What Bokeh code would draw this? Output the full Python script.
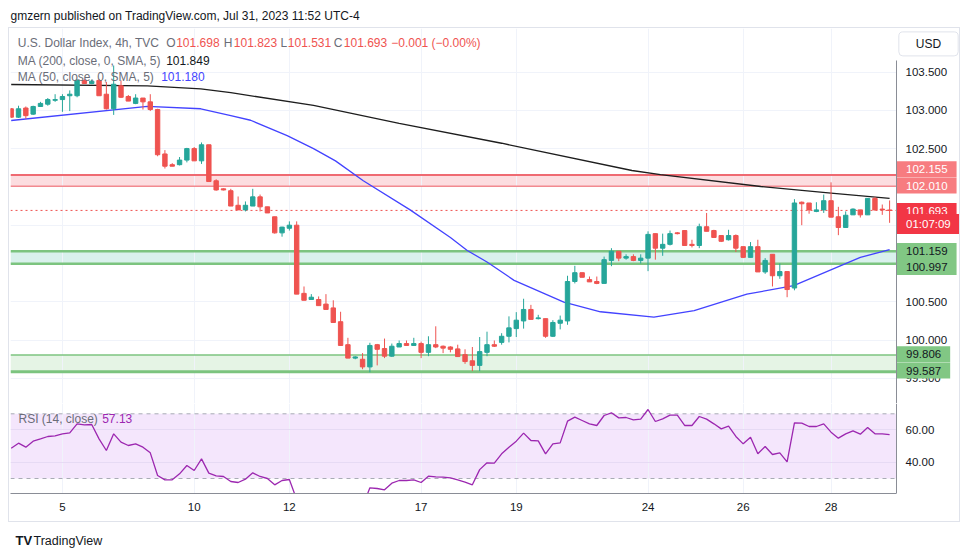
from bokeh.plotting import figure
from bokeh.models import Range1d, Label, FixedTicker, NumeralTickFormatter
from bokeh.layouts import column
from bokeh.embed import file_html
from bokeh.resources import INLINE

FONT = "Liberation Sans"

# ---------------- data ----------------
date_ticks = [7, 25, 38, 56, 69, 87, 100, 112]
date_labels = ["5", "10", "12", "17", "19", "24", "26", "28"]
price_ticks = [99.5, 100.0, 100.5, 101.0, 101.5, 102.0, 102.5, 103.0, 103.5]
rsi_ticks = [40, 60]

opens = [103.02, 102.91, 103.03, 102.95, 103.05, 103.08, 103.13, 103.14, 103.19, 103.19,
         103.39, 103.35, 103.39, 103.21, 103.02, 103.32, 103.18, 103.09, 103.16, 103.11,
         103.01, 102.43, 102.29, 102.29, 102.35, 102.50, 102.34, 102.55, 102.08, 101.975,
         101.95, 101.76, 101.70, 101.75, 101.87, 101.74, 101.61, 101.40, 101.46, 101.50,
         100.61, 100.53, 100.53, 100.47, 100.42, 100.24, 99.94, 99.765, 99.75, 99.65,
         99.94, 99.89, 99.79, 99.91, 99.955, 99.93, 99.955, 99.84, 99.94, 99.92,
         99.91, 99.885, 99.81, 99.73, 99.67, 99.84, 99.94, 99.97, 100.05, 100.15,
         100.25, 100.40, 100.28, 100.28, 100.05, 100.22, 100.25, 100.765, 100.88, 100.79,
         100.765, 100.74, 101.04, 101.16, 101.07, 101.09, 101.04, 101.07, 101.39, 101.20,
         101.25, 101.40, 101.43, 101.25, 101.235, 101.48, 101.43, 101.365, 101.31, 101.365,
         101.22, 101.08, 101.22, 100.89, 101.12, 100.84, 100.895, 100.68, 101.80, 101.79,
         101.68, 101.70, 101.82, 101.61, 101.47, 101.635, 101.70, 101.635, 101.85, 101.71,
         101.698]
highs = [103.03, 103.06, 103.05, 103.06, 103.11, 103.16, 103.21, 103.21, 103.26, 103.41,
         103.41, 103.40, 103.41, 103.37, 103.585, 103.39, 103.20, 103.21, 103.16, 103.21,
         103.02, 102.48, 102.31, 102.39, 102.51, 102.52, 102.58, 102.55, 102.10, 101.98,
         101.975, 101.875, 101.81, 101.975, 101.90, 101.74, 101.61, 101.48, 101.55, 101.55,
         100.70, 100.60, 100.57, 100.60, 100.52, 100.37, 100.03, 99.79, 99.83, 99.965,
         99.95, 100.02, 99.955, 99.995, 99.995, 100.03, 99.98, 100.05, 100.18, 99.93,
         99.92, 99.94, 99.88, 99.91, 100.04, 100.11, 99.995, 100.09, 100.31, 100.365,
         100.54, 100.46, 100.33, 100.28, 100.26, 100.32, 100.84, 100.97, 100.88, 100.83,
         100.83, 101.09, 101.20, 101.16, 101.12, 101.12, 101.12, 101.42, 101.39, 101.39,
         101.43, 101.41, 101.43, 101.31, 101.52, 101.66, 101.44, 101.365, 101.44, 101.38,
         101.22, 101.28, 101.31, 101.07, 101.12, 101.00, 100.895, 101.84, 101.81, 101.79,
         101.80, 101.90, 102.06, 101.74, 101.68, 101.72, 101.70, 101.85, 101.87, 101.77,
         101.823]
lows = [102.90, 102.90, 102.89, 102.94, 103.05, 103.06, 103.11, 102.98, 102.99, 103.17,
        103.35, 103.34, 103.19, 103.01, 102.94, 103.16, 103.12, 103.08, 103.01, 102.99,
        102.40, 102.24, 102.27, 102.28, 102.32, 102.34, 102.30, 102.07, 101.95, 101.955,
        101.75, 101.70, 101.68, 101.75, 101.68, 101.66, 101.39, 101.35, 101.43, 100.60,
        100.52, 100.53, 100.45, 100.40, 100.23, 99.93, 99.765, 99.75, 99.62, 99.58,
        99.67, 99.765, 99.78, 99.91, 99.93, 99.925, 99.765, 99.79, 99.895, 99.83,
        99.84, 99.78, 99.69, 99.595, 99.595, 99.79, 99.91, 99.94, 99.97, 100.04,
        100.15, 100.27, 100.27, 100.03, 100.04, 100.14, 100.20, 100.74, 100.82, 100.76,
        100.73, 100.74, 100.965, 101.03, 101.05, 101.03, 101.00, 100.90, 101.05, 101.10,
        101.235, 101.38, 101.235, 101.21, 101.20, 101.42, 101.335, 101.28, 101.30, 101.15,
        101.07, 101.08, 100.89, 100.865, 100.70, 100.80, 100.56, 100.65, 101.50, 101.65,
        101.67, 101.66, 101.605, 101.37, 101.47, 101.635, 101.60, 101.635, 101.69, 101.635,
        101.531]
closes = [102.91, 103.02, 102.93, 103.05, 103.09, 103.14, 103.14, 103.18, 103.21, 103.39,
          103.35, 103.38, 103.19, 103.02, 103.34, 103.17, 103.12, 103.16, 103.11, 103.01,
          102.42, 102.27, 102.27, 102.35, 102.50, 102.34, 102.55, 102.07, 101.96, 101.96,
          101.75, 101.70, 101.76, 101.87, 101.74, 101.66, 101.40, 101.475, 101.50, 100.60,
          100.52, 100.56, 100.45, 100.40, 100.23, 99.93, 99.765, 99.78, 99.65, 99.93,
          99.88, 99.79, 99.92, 99.955, 99.93, 99.955, 99.84, 99.94, 99.91, 99.895,
          99.88, 99.785, 99.72, 99.67, 99.85, 99.94, 99.92, 100.05, 100.16, 100.26,
          100.40, 100.27, 100.29, 100.05, 100.23, 100.26, 100.765, 100.88, 100.82, 100.76,
          100.74, 101.05, 101.16, 101.07, 101.09, 101.04, 101.07, 101.38, 101.20, 101.25,
          101.39, 101.39, 101.235, 101.235, 101.48, 101.42, 101.34, 101.29, 101.365, 101.20,
          101.08, 101.22, 100.89, 101.04, 100.84, 100.895, 100.66, 101.79, 101.78, 101.70,
          101.70, 101.82, 101.605, 101.47, 101.63, 101.71, 101.635, 101.85, 101.70, 101.70,
          101.693]

ma200_x = [0, 18.6, 25.9, 30, 41.3, 53, 67, 84.8, 88.7, 102.4, 112, 120]
ma200_y = [103.337, 103.32, 103.28, 103.23, 103.063, 102.83, 102.57, 102.214, 102.16, 102.005, 101.92, 101.849]

ma50_x = [0, 18.6, 25.9, 30, 32.7, 37.7, 41.3, 44.3, 48.1, 54.5, 60, 62.3, 65, 68.7,
          75.5, 80.5, 87.8, 93.3, 100.5, 106.9, 116, 120]
ma50_y = [102.867, 103.05, 103.02, 102.93, 102.87, 102.67, 102.50, 102.34, 102.08, 101.70,
          101.34, 101.17, 101.02, 100.78, 100.495, 100.37, 100.30, 100.385, 100.60, 100.71,
          101.08, 101.18]

rsi = [48.75, 51.84, 49.37, 53.08, 54.5, 55.97, 56.38, 57.61, 58.23, 63.8,
       63.18, 63.38, 54.52, 47.31, 57.61, 52.46, 50.4, 51.43, 49.37, 45.87,
       31.86, 29.18, 29.18, 32.89, 38.04, 34.95, 42.16, 33.3, 31.65, 31.24,
       28.15, 27.53, 29.59, 33.5, 31.24, 30.0, 26.09, 28.77, 29.38, 17.0,
       15.5, 17.0, 14.5, 13.5, 11.5, 9.0, 7.5, 8.0, 12.5, 24.23,
       23.82, 23.0, 27.12, 28.77, 28.77, 29.18, 27.53, 31.44, 31.03, 30.83,
       30.41, 29.18, 27.74, 26.09, 35.5, 39.69, 39.48, 45.25, 49.37, 53.08,
       58.03, 53.49, 53.29, 45.25, 51.43, 52.05, 65.44, 67.92, 65.86, 63.8,
       62.77, 68.95, 70.6, 67.5, 67.71, 66.27, 66.68, 72.66, 65.24, 66.89,
       69.15, 69.15, 62.77, 62.77, 68.33, 66.68, 63.8, 60.7, 62.35, 55.97,
       51.43, 55.55, 45.25, 49.78, 44.84, 45.87, 40.31, 64.41, 64.21, 62.15,
       62.15, 63.8, 58.64, 54.94, 57.61, 59.47, 57.41, 61.53, 57.61, 57.61,
       57.13]

red_zone = (102.010, 102.155)
green_zone_hi = (100.997, 101.159)
green_zone_lo = (99.587, 99.806)
change_text = "\u22120.001 (\u22120.00%)"
countdown = "01:07:09"

# ---------------- layout geometry (pixels, window coords) ----------------
X_PIX0, X_STEP = 10.7, 7.32          # bar 0 centre, bar spacing
P_REF, P_REF_PIX, P_SCALE = 103.5, 71.5, 76.6
R_REF, R_REF_PIX, R_SCALE = 70.0, 413.3, 1.6175


def xi(px):
    return (px - X_PIX0) / X_STEP


def py(pix):
    return P_REF - (pix - P_REF_PIX) / P_SCALE


def ry(pix):
    return R_REF - (pix - R_REF_PIX) / R_SCALE


UP, DOWN = "#26a69a", "#ef5350"
GRID = "#f0f3fa"
AXIS = "#8a8d96"
TXT = "#131722"
GRAY = "#6a6d78"
XL, XS = xi(10), xi(896)          # pane left edge, price-scale separator
x_range = Range1d(XL, xi(959))


def bound_grid(g, lo, hi):
    try:
        g.cross_bounds = (lo, hi)
    except Exception:
        pass


def style_axis(a, standoff):
    a.major_tick_line_color = None
    a.minor_tick_line_color = None
    a.major_tick_out = 0
    a.major_tick_in = 0
    a.major_label_standoff = standoff
    a.major_label_text_font = FONT
    a.major_label_text_font_size = "11.5px"
    a.major_label_text_color = TXT


# ---------------- price pane ----------------
p1 = figure(width=950, height=375, x_range=x_range, y_range=Range1d(py(403), py(28)),
            y_axis_location="right", x_axis_location=None, toolbar_location=None,
            output_backend="svg", min_border_left=1, min_border_right=0,
            min_border_top=0, min_border_bottom=0, outline_line_color=None,
            background_fill_color="white", border_fill_color="white")
p1.xgrid.ticker = FixedTicker(ticks=date_ticks)
p1.ygrid.ticker = FixedTicker(ticks=price_ticks)
p1.grid.grid_line_color = GRID
bound_grid(p1.ygrid[0], XL, XS)
ax = p1.yaxis[0]
ax.ticker = FixedTicker(ticks=price_ticks)
ax.formatter = NumeralTickFormatter(format="0.000")
ax.axis_line_color = None
style_axis(ax, -54)

# zones
for (lo, hi), fill in [(red_zone, "#fcdde0"), (green_zone_hi, "#d9f1ec"), (green_zone_lo, "#e5f4e5")]:
    p1.quad(left=[XL], right=[XS], bottom=[lo], top=[hi], fill_color=fill, line_color=None, level="image")
for yv, colr, lw in [(red_zone[1], "#ef6a72", 2), (red_zone[0], "#f28a90", 1.5),
                     (green_zone_hi[1], "#7cc47f", 2.5), (green_zone_hi[0], "#7cc47f", 2.5),
                     (green_zone_lo[1], "#7cc47f", 1.5), (green_zone_lo[0], "#7cc47f", 3)]:
    p1.segment(x0=[XL], y0=[yv], x1=[XS], y1=[yv], line_color=colr, line_width=lw)
p1.segment(x0=[XL], y0=[closes[-1]], x1=[XS], y1=[closes[-1]], line_color="#ef5350",
           line_width=1, line_dash="2 3")

# moving averages
p1.line(ma200_x, ma200_y, line_color="#1e1e1e", line_width=1.3)
p1.line(ma50_x, ma50_y, line_color="#4343ff", line_width=1.3)

# candles
xs = list(range(len(opens)))
cols = [UP if c >= o else DOWN for o, c in zip(opens, closes)]
tops = [max(o, c) for o, c in zip(opens, closes)]
bots = [min(o, c) for o, c in zip(opens, closes)]
p1.segment(x0=xs, y0=highs, x1=xs, y1=lows, line_color=cols, line_width=1)
p1.vbar(x=xs, width=0.6, top=tops, bottom=bots, fill_color=cols, line_color=cols, line_width=1)

# separators
p1.segment(x0=[XS], y0=[py(60)], x1=[XS], y1=[py(403)], line_color=AXIS, line_width=1)
p1.hspan(y=[py(402.5)], line_color="#e0e3eb", line_width=1)


def lab(fig, x, y, text, color, size="12px", align="left", baseline="middle", **kw):
    fig.add_layout(Label(x=x, y=y, text=text, text_color=color, text_font=FONT,
                         text_font_size=size, text_align=align, text_baseline=baseline, **kw))


# legend texts
L1, L2, L3 = py(42.3), py(60), py(76)
lab(p1, xi(17.3), L1, "U.S. Dollar Index, 4h, TVC", GRAY)
for letter, val, px_l, px_v in [("O", opens[-1], 165.7, 175.7), ("H", highs[-1], 223.3, 233.3),
                                ("L", lows[-1], 280, 287.3), ("C", closes[-1], 333.3, 343.3)]:
    lab(p1, xi(px_l), L1, letter, GRAY)
    lab(p1, xi(px_v), L1, f"{val:.3f}", DOWN)
lab(p1, xi(390.7), L1, change_text, DOWN)
lab(p1, xi(17.3), L2, "MA (200, close, 0, SMA, 5)", GRAY)
lab(p1, xi(165.7), L2, f"{ma200_y[-1]:.3f}", TXT)
lab(p1, xi(17.3), L3, "MA (50, close, 0, SMA, 5)", GRAY)
lab(p1, xi(160.7), L3, f"{ma50_y[-1]:.3f}", "#4343ff")

# USD button
lab(p1, xi(928), py(43.4), "USD", TXT, align="center",
    background_fill_color="white", border_line_color="#e0e3eb",
    padding=dict(left=17, right=17, top=5, bottom=5), border_radius=4)

# price scale labels (box left edge on the separator)
PAD = dict(left=9, right=9, top=4, bottom=4)
AX_X = xi(896.5)
for txt, pix, bg, fg in [
    (f"{red_zone[1]:.3f}", 168.8, "#f77c80", "white"),
    (f"{red_zone[0]:.3f}", 185.0, "#f77c80", "white"),
    (f"{closes[-1]:.3f}", 210.5, "#f23645", "white"),
    (countdown, 223.5, "#f23645", "white"),
    (f"{green_zone_hi[1]:.3f}", 250.5, "#81c784", TXT),
    (f"{green_zone_hi[0]:.3f}", 266.5, "#81c784", TXT),
    (f"{green_zone_lo[1]:.3f}", 353.8, "#81c784", TXT),
    (f"{green_zone_lo[0]:.3f}", 370.0, "#81c784", TXT),
]:
    lab(p1, AX_X, py(pix), txt, fg, size="11.5px", background_fill_color=bg, padding=PAD)

# ---------------- RSI pane ----------------
p2 = figure(width=950, height=118, x_range=x_range, y_range=Range1d(ry(493), ry(403)),
            y_axis_location="right", x_axis_location="below", toolbar_location=None,
            output_backend="svg", min_border_left=1, min_border_right=0,
            min_border_top=0, min_border_bottom=28, outline_line_color=None,
            background_fill_color="white", border_fill_color="white")
p2.xgrid.ticker = FixedTicker(ticks=date_ticks)
p2.xgrid.grid_line_color = GRID
p2.ygrid.ticker = FixedTicker(ticks=rsi_ticks)
p2.ygrid.grid_line_color = "#e6daf4"
bound_grid(p2.ygrid[0], XL, XS)
ay = p2.yaxis[0]
ay.ticker = FixedTicker(ticks=rsi_ticks)
ay.formatter = NumeralTickFormatter(format="0.00")
ay.axis_line_color = None
style_axis(ay, -54)
axx = p2.xaxis[0]
axx.ticker = FixedTicker(ticks=date_ticks)
axx.major_label_overrides = {t: l for t, l in zip(date_ticks, date_labels)}
axx.axis_line_color = AXIS
axx.bounds = (XL, XS)
style_axis(axx, 9)

p2.quad(left=[XL], right=[XS], bottom=[30], top=[70], fill_color="#f4e6fc", line_color=None, level="image")
p2.segment(x0=[XL, XL], y0=[30, 70], x1=[XS, XS], y1=[30, 70], line_color="#a9acb5",
           line_width=1, line_dash="4 4")
p2.line(xs, rsi, line_color="#9c27b0", line_width=1.3)
p2.vspan(x=[XS], line_color=AXIS, line_width=1)
lab(p2, xi(18), ry(418), "RSI (14, close)", GRAY)
lab(p2, xi(101.7), ry(418), f"{rsi[-1]:.2f}", "#9c27b0")


# ---------------- header / footer ----------------
def blank(w, h):
    f = figure(width=w, height=h, x_range=Range1d(0, w), y_range=Range1d(0, h),
               toolbar_location=None, output_backend="svg", min_border=0,
               x_axis_location=None, y_axis_location=None, outline_line_color=None)
    f.grid.visible = False
    return f


header = blank(952, 19)
lab(header, 2, 12, "gmzern published on TradingView.com, Jul 31, 2023 11:52 UTC-4", TXT)
footer = blank(952, 27)
lab(footer, 7, 9, "TV", TXT, size="13px", text_font_style="bold")
lab(footer, 25, 9, "TradingView", TXT, size="12.5px")

chart = column(p1, p2, styles={"border": "1px solid #e0e3eb"})
page = column(header, chart, footer, margin=(8, 8, 8, 8))

open("out.html", "w").write(file_html(page, INLINE))
